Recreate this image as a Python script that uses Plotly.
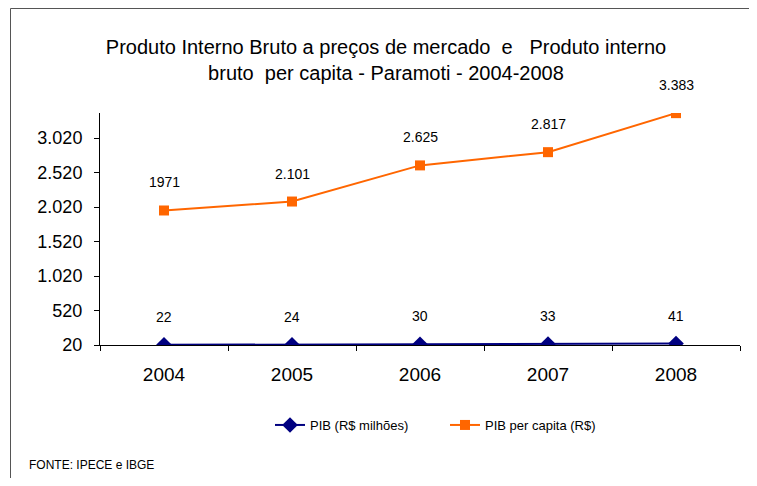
import plotly.graph_objects as go

years = ["2004", "2005", "2006", "2007", "2008"]
pib = [22, 24, 30, 33, 41]
pib_labels = ["22", "24", "30", "33", "41"]
pib_pc = [1971, 2101, 2625, 2817, 3383]
pib_pc_labels = ["1971", "2.101", "2.625", "2.817", "3.383"]
y_ticks = [20, 520, 1020, 1520, 2020, 2520, 3020]
y_tick_labels = ["20", "520", "1.020", "1.520", "2.020", "2.520", "3.020"]

FONT = "Arial, 'Liberation Sans', sans-serif"

# page body has an 8px margin, so figure is sized/offset to compensate
W, H = 741, 470
PL, PR, PT, PB = 92, 732, 105, 337  # plot area in figure coords
PW, PH = PR - PL, PB - PT


def px_x(sx):
    return (sx - 8 - PL) / PW


def px_y(sy):
    return (PB - (sy - 8)) / PH


fig = go.Figure()
fig.add_trace(go.Scatter(
    x=years, y=pib, mode="lines+markers", name="PIB (R$ milhões)",
    line=dict(color="#000080", width=2),
    marker=dict(symbol="diamond", size=12, color="#000080"),
))
fig.add_trace(go.Scatter(
    x=years, y=pib_pc, mode="lines+markers", name="PIB per capita (R$)",
    line=dict(color="#FF6600", width=2),
    marker=dict(symbol="square", size=10, color="#FF6600"),
))

annotations = []
for ys, labs in [(pib, pib_labels), (pib_pc, pib_pc_labels)]:
    for i, (yv, lab) in enumerate(zip(ys, labs)):
        annotations.append(dict(
            x=i, y=yv, text=lab, showarrow=False, yshift=28,
            xanchor="center", yanchor="middle",
            font=dict(family=FONT, size=14, color="black"),
        ))
annotations.append(dict(
    xref="paper", yref="paper", x=px_x(27), y=px_y(465),
    xanchor="left", yanchor="middle", showarrow=False,
    text="FONTE: IPECE e IBGE", font=dict(family=FONT, size=12, color="black"),
))

border = dict(color="#555555", width=1)
fig.update_layout(
    width=W, height=H,
    margin=dict(l=PL, r=W - PR, t=PT, b=H - PB),
    paper_bgcolor="white", plot_bgcolor="white",
    font=dict(family=FONT, color="black"),
    title=dict(
        text="Produto Interno Bruto a preços de mercado  e   Produto interno<br>bruto  per capita - Paramoti - 2004-2008",
        x=(386 - 8) / W, xref="container", xanchor="center",
        y=1 - (54 - 8) / H, yref="container", yanchor="middle",
        font=dict(family=FONT, size=20, color="black"),
    ),
    showlegend=True,
    legend=dict(
        orientation="h", x=px_x(270), xanchor="left",
        y=px_y(425), yanchor="middle",
        font=dict(family=FONT, size=13, color="black"),
        entrywidth=130, bgcolor="rgba(0,0,0,0)",
    ),
    annotations=annotations,
    shapes=[
        dict(type="line", xref="paper", yref="paper",
             x0=px_x(10.5), x1=px_x(800), y0=px_y(8.5), y1=px_y(8.5),
             line=border, layer="below"),
        dict(type="line", xref="paper", yref="paper",
             x0=px_x(10.5), x1=px_x(10.5), y0=px_y(8.5), y1=px_y(540),
             line=border, layer="below"),
    ],
)
fig.update_xaxes(
    type="category", range=[-0.5, 4.5], showgrid=False,
    showline=True, linecolor="black", linewidth=1,
    ticks="outside", ticklen=5, tickcolor="black", tickson="boundaries",
    tickfont=dict(family=FONT, size=19, color="black"),
    ticklabelstandoff=12,
)
fig.update_yaxes(
    range=[20, 3385], showgrid=False, zeroline=False,
    showline=True, linecolor="black", linewidth=1,
    ticks="outside", ticklen=5, tickcolor="black",
    tickvals=y_ticks, ticktext=y_tick_labels,
    tickfont=dict(family=FONT, size=18, color="black"),
    ticklabelstandoff=8,
)

fig.write_html("out.html")
